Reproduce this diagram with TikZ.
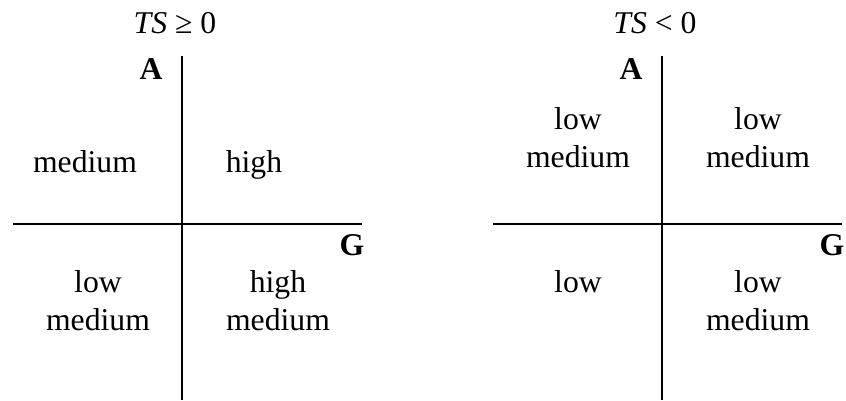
\documentclass[tikz,border=0pt]{standalone}
\usepackage{fontspec}
\setmainfont{Liberation Serif}
\begin{document}
\begin{tikzpicture}[x=1pt,y=-1pt,
  lbl/.style={font=\fontsize{31.7}{38}\selectfont, anchor=base, inner sep=0pt, align=center},
  axis/.style={line width=1.3pt}]
\useasboundingbox (0,0) rectangle (846,400);
% left panel
\coordinate (lvt) at (182,56);
\coordinate (lvb) at (182,400);
\coordinate (lhl) at (13,224);
\coordinate (lhr) at (362,224);
\draw[axis] (lvt) -- (lvb);
\draw[axis] (lhl) -- (lhr);
\node[lbl] (lt) at (175,33) {\textit{TS} ≥ 0};
\node[lbl] (la) at (151,79) {\textbf{A}};
\node[lbl] (lg) at (352,255) {\textbf{G}};
\node[lbl] (l1) at (85,172) {medium};
\node[lbl] (l2) at (254,172) {high};
\node[lbl] (l3) at (98,330) {low\\medium};
\node[lbl] (l4) at (278,330) {high\\medium};
% right panel
\coordinate (rvt) at (662,56);
\coordinate (rvb) at (662,400);
\coordinate (rhl) at (493,224);
\coordinate (rhr) at (842,224);
\draw[axis] (rvt) -- (rvb);
\draw[axis] (rhl) -- (rhr);
\node[lbl] (rt) at (655,33) {\textit{TS} < 0};
\node[lbl] (ra) at (631,79) {\textbf{A}};
\node[lbl] (rg) at (832,255) {\textbf{G}};
\node[lbl] (r1) at (578,167) {low\\medium};
\node[lbl] (r2) at (758,167) {low\\medium};
\node[lbl] (r3) at (578,292) {low};
\node[lbl] (r4) at (758,330) {low\\medium};
\end{tikzpicture}
\end{document}
